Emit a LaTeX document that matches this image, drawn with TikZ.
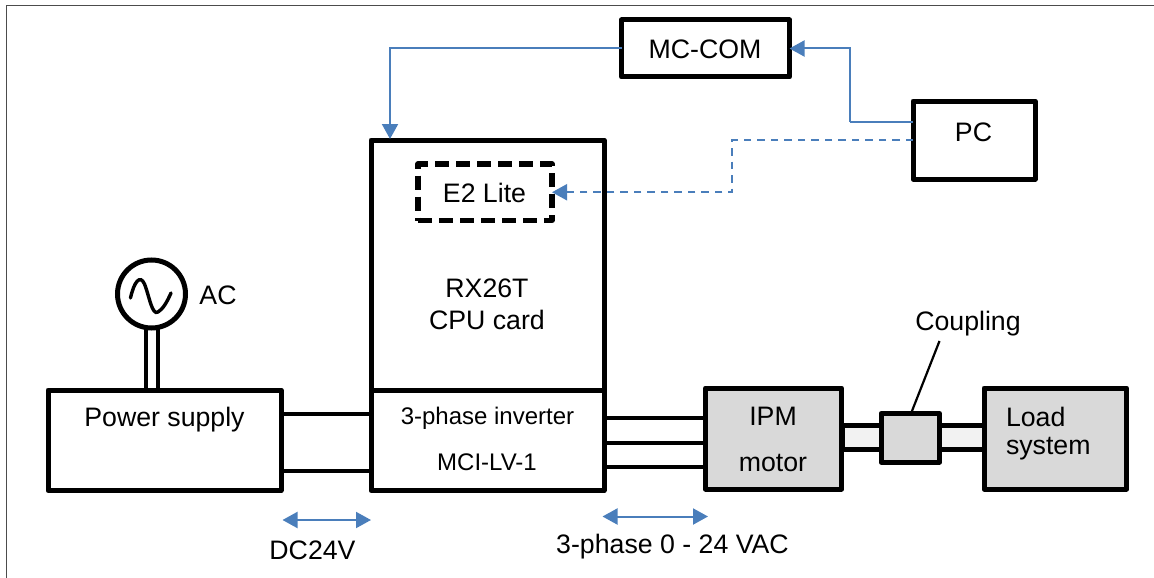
\documentclass[tikz,border=0pt]{standalone}
\usepackage{fontspec}
\setmainfont{Liberation Sans}
\usetikzlibrary{arrows.meta}
\definecolor{linkblue}{HTML}{4A7EBB}
\definecolor{fillgray}{HTML}{D9D9D9}
\definecolor{shaftgray}{HTML}{F2F2F2}
\tikzset{
  x=1pt,y=-1pt,
  blockbox/.style={draw=black,line width=5pt,fill=white,rectangle,outer sep=0pt,inner sep=0pt,line join=round},
  graybox/.style={blockbox,fill=fillgray},
  shaftbox/.style={blockbox,fill=shaftgray},
  dashbox/.style={blockbox,fill=none,line width=5.2pt,dash pattern=on 14pt off 7pt},
  lbl/.style={inner sep=0pt,outer sep=0pt,yshift=-0.4pt,font=\fontsize{26.7}{30}\selectfont},
  lblsmall/.style={inner sep=0pt,outer sep=0pt,yshift=-0.8pt,font=\fontsize{24}{28}\selectfont},
  wire/.style={draw=black,line width=4pt},
  link/.style={draw=linkblue,line width=2pt},
  linkarrow/.style={link,-{Triangle[length=15pt,width=16pt,fill=linkblue]}},
  dasharrow/.style={linkarrow,dash pattern=on 7.5pt off 6pt},
  dimarrow/.style={link,{Triangle[length=15pt,width=16pt,fill=linkblue]}-{Triangle[length=15pt,width=16pt,fill=linkblue]}},
}
\begin{document}
\begin{tikzpicture}
\useasboundingbox (0,0) rectangle (1154,578);
% outer frame (open at right and bottom)
\coordinate (frameA) at (6.5,578);
\coordinate (frameB) at (6.5,5.5);
\coordinate (frameC) at (1154,5.5);
\draw[line width=1.5pt,draw=black!70] (frameA) -- (frameB) -- (frameC);

% shaft behind motor, coupling, load
\node[shaftbox,minimum width=143pt,minimum height=24pt] (shaft) at (913.5,437.5) {};

% blocks
\node[blockbox,minimum width=168pt,minimum height=57pt] (mccom) at (705.5,48.5) {};
\node[blockbox,minimum width=122pt,minimum height=78pt] (pc) at (974,140) {};
\node[blockbox,minimum width=233pt,minimum height=250pt] (cpu) at (487.5,265) {};
\node[blockbox,minimum width=233pt,minimum height=100.7pt] (inv) at (487.5,440.35) {};
\node[blockbox,minimum width=233pt,minimum height=100.7pt] (psu) at (164.5,440.35) {};
\node[dashbox,minimum width=134pt,minimum height=56.5pt] (e2) at (485,192.25) {};
\node[graybox,minimum width=136pt,minimum height=101pt] (ipm) at (773.5,438.5) {};
\node[graybox,minimum width=58.5pt,minimum height=48.5pt] (coup) at (910.25,437.75) {};
\node[graybox,minimum width=142.5pt,minimum height=101pt] (load) at (1055.25,438.5) {};
\node[circle,draw=black,line width=5pt,fill=white,minimum size=68pt,inner sep=0pt,outer sep=0pt] (ac) at (151.5,294) {};

% texts
\node[lbl] (tmc) at (705,48.5) {MC-COM};
\node[lbl] (tpc) at (973.5,132) {PC};
\node[lbl] (te2) at (484.5,192.5) {E2 Lite};
\node[lbl] (trx) at (487,288) {RX26T};
\node[lbl] (tcpu) at (487,319.5) {CPU card};
\node[lblsmall] (tinv) at (487.5,417) {3-phase inverter};
\node[lblsmall] (tmci) at (487,461) {MCI-LV-1};
\node[lbl] (tpsu) at (164.5,419.5) {Power supply};
\node[lbl] (tac) at (218,295) {AC};
\node[lbl] (tipm) at (773,416) {IPM};
\node[lbl] (tmot) at (773,463) {motor};
\node[lbl,anchor=west] (tl1) at (1006,416.5) {Load};
\node[lbl,anchor=west] (tl2) at (1006,448) {system};
\node[lbl] (tcoup) at (968,323.5) {Coupling};
\node[lbl] (tdc) at (312.5,549.5) {DC24V};
\node[lbl] (t3p) at (672.5,546.5) {3-phase 0 - 24 VAC};

% sine inside AC source
\draw[line width=3.4pt,line cap=round] (130.5,298)
  .. controls (134,282) and (140,274) .. (144.5,284)
  .. controls (149,295) and (152,316) .. (158,312)
  .. controls (163,309) and (167,302) .. (171,293);

% AC feed
\draw[wire] (ac.south -| 145.5,0) -- (psu.north -| 145.5,0);
\draw[wire] (ac.south -| 157.5,0) -- (psu.north -| 157.5,0);

% DC lines
\draw[wire] (psu.east |- 0,413.5) -- (inv.west |- 0,413.5);
\draw[wire] (psu.east |- 0,471) -- (inv.west |- 0,471);

% motor lines
\draw[wire] (inv.east |- 0,418) -- (ipm.west |- 0,418);
\draw[wire] (inv.east |- 0,442.5) -- (ipm.west |- 0,442.5);
\draw[wire] (inv.east |- 0,466.5) -- (ipm.west |- 0,466.5);

% coupling leader
\coordinate (lead) at (939.5,341);
\draw[black,line width=2.2pt] (lead) -- (coup.north -| 911,0);

% blue connectors
\coordinate (cpuin) at (390,139);
\coordinate (pcup) at (850,121.5);
\coordinate (pcdn) at (732,140);
\draw[linkarrow] (mccom.west) -| (cpuin);
\draw[link] (pc.west |- pcup) -- (pcup);
\draw[linkarrow] (pcup) |- (mccom.east);
\draw[dasharrow] (pc.west |- pcdn) -- (pcdn) |- (e2.east);

% dimension arrows
\coordinate (dca) at (282.5,520);
\coordinate (dcb) at (371,520);
\coordinate (aca) at (602.5,516.5);
\coordinate (acb) at (708,516.5);
\draw[dimarrow] (dca) -- (dcb);
\draw[dimarrow] (aca) -- (acb);
\end{tikzpicture}
\end{document}
